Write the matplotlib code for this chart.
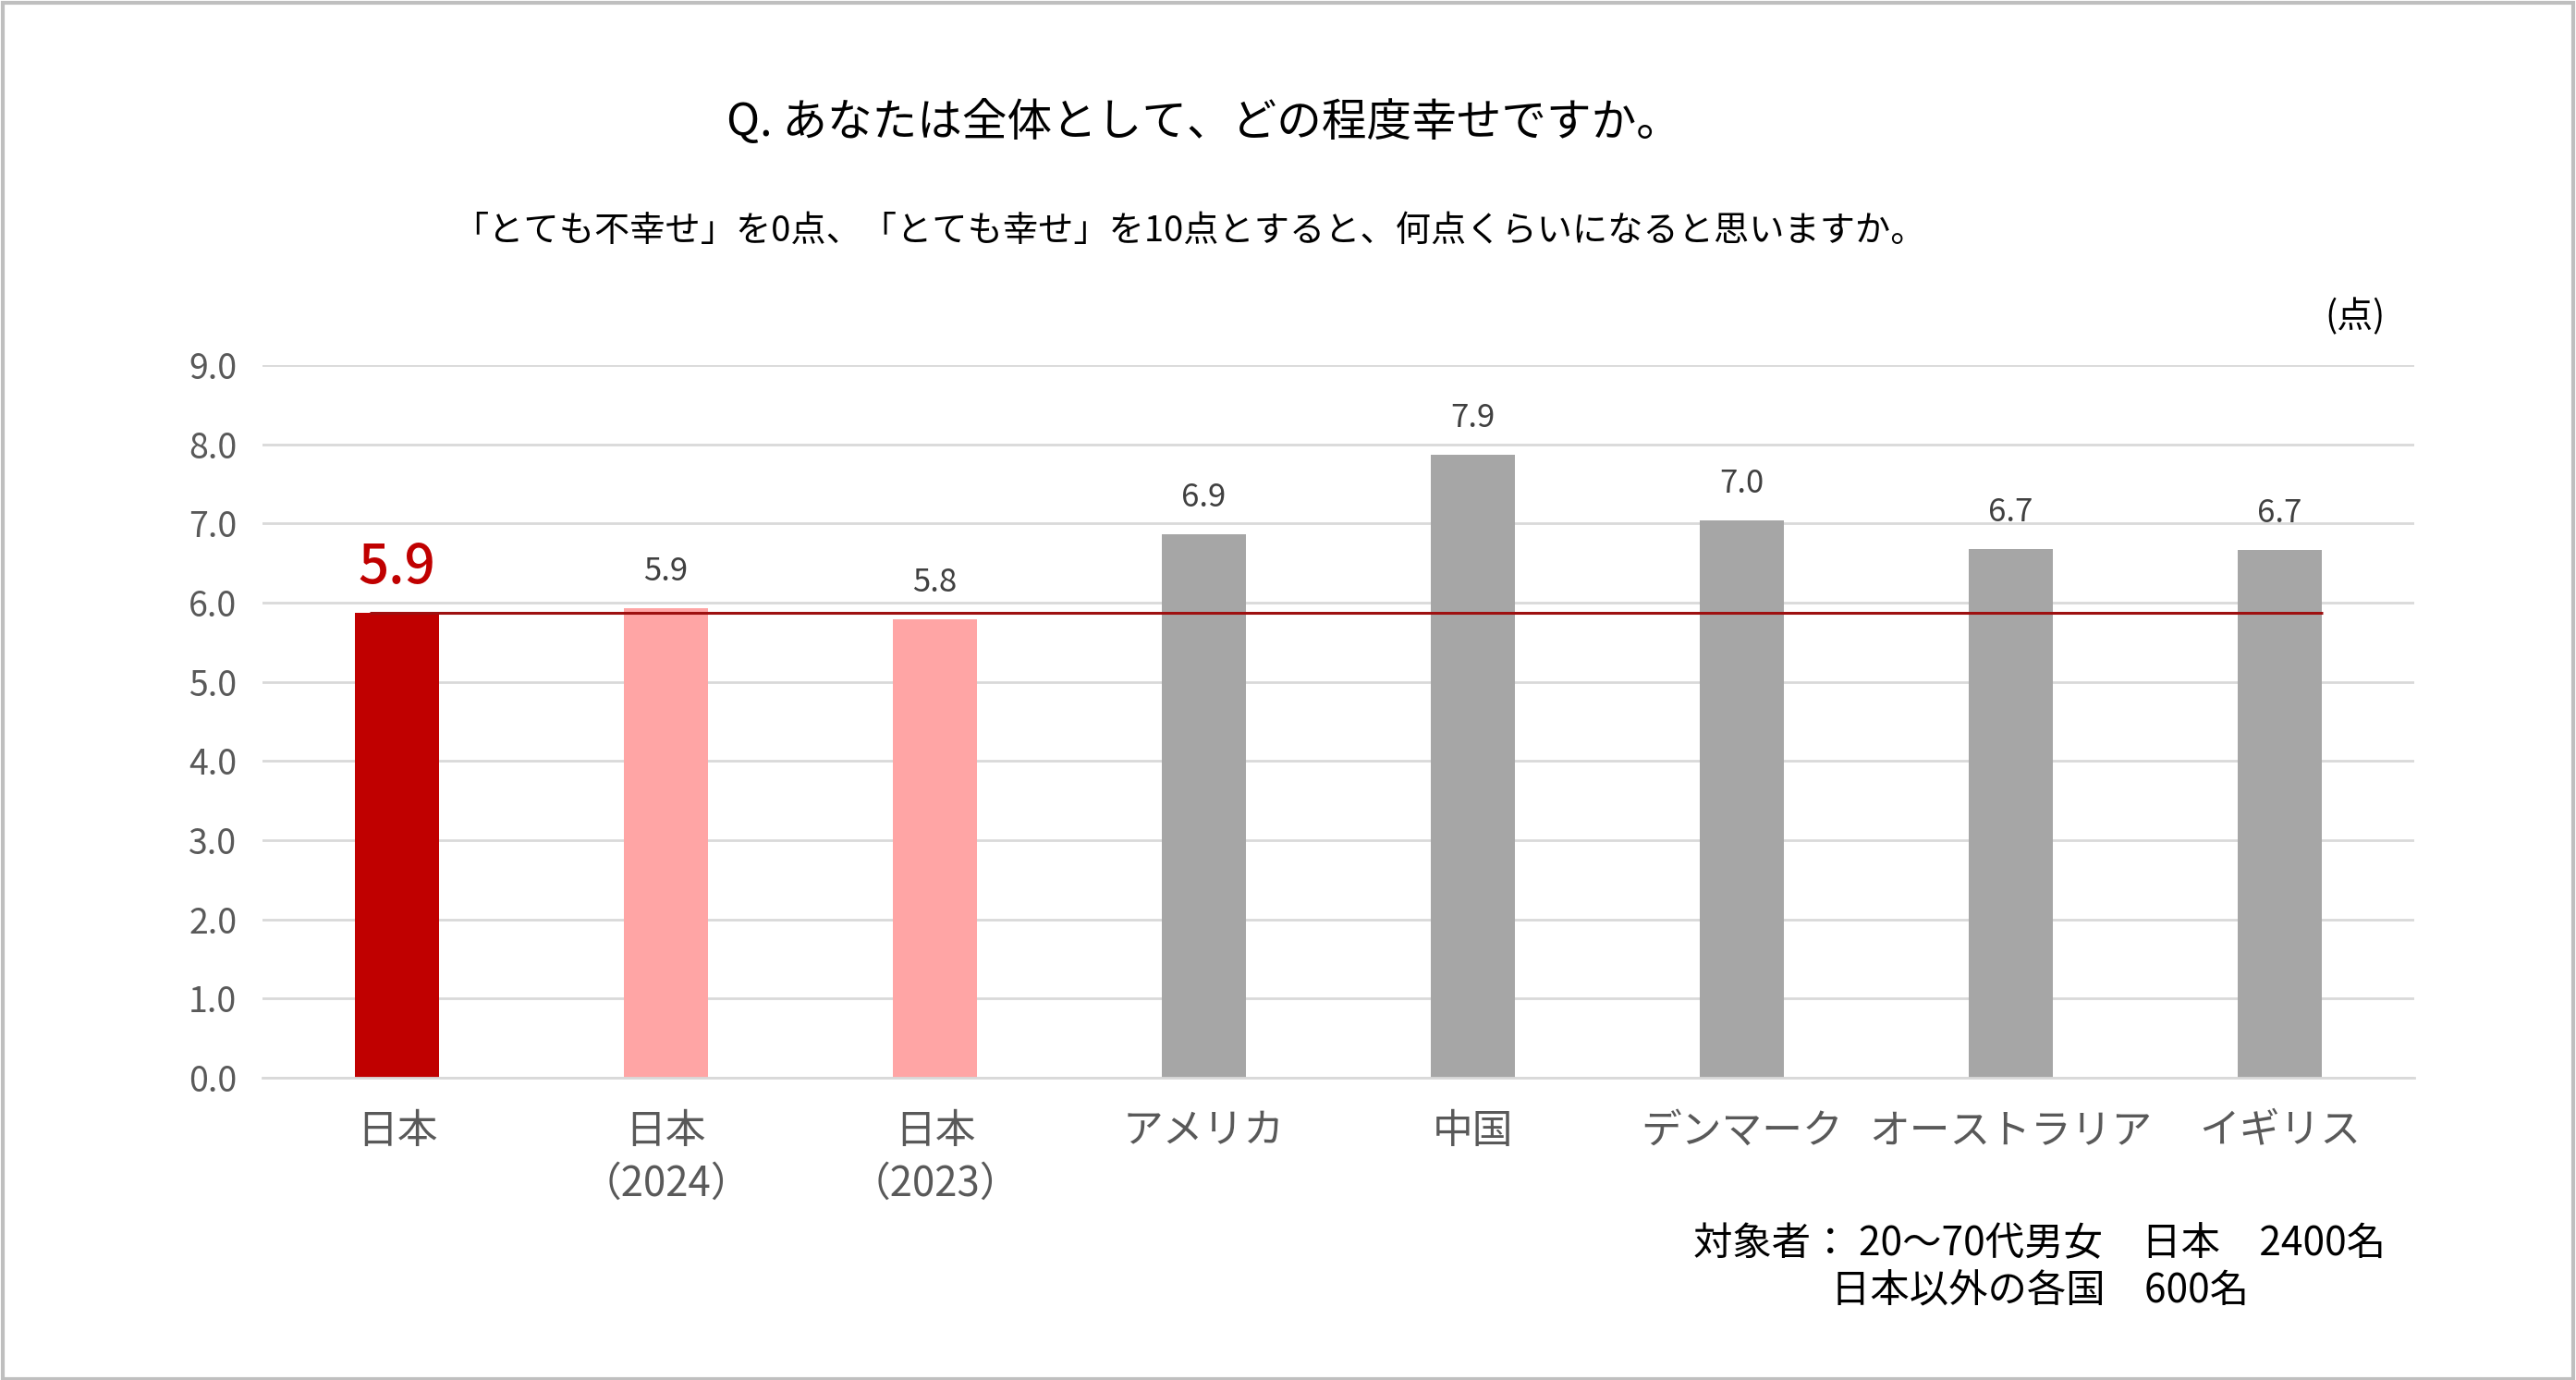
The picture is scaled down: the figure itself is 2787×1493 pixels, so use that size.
import matplotlib
matplotlib.use("Agg")
import matplotlib.pyplot as plt
from matplotlib.patches import Rectangle

plt.rcParams['font.family'] = ['Noto Sans CJK JP', 'DejaVu Sans']

# --- データ ---
categories = ['日本', '日本\n（2024）', '日本\n（2023）', 'アメリカ', '中国',
              'デンマーク', 'オーストラリア', 'イギリス']
scores = [5.87, 5.93, 5.79, 6.86, 7.87, 7.04, 6.68, 6.66]
labels = ['5.9', '5.9', '5.8', '6.9', '7.9', '7.0', '6.7', '6.7']
bar_colors = ['#C00000', '#FFA5A5', '#FFA5A5', '#A6A6A6', '#A6A6A6',
              '#A6A6A6', '#A6A6A6', '#A6A6A6']
japan_score = scores[0]

W, H = 2787, 1493
fig = plt.figure(figsize=(W / 100, H / 100), dpi=100)
ax = fig.add_axes([284 / W, 1 - 1166 / H, (2612 - 284) / W, (1166 - 395) / H])

x = list(range(len(categories)))
ax.bar(x, scores, width=0.31, color=bar_colors, zorder=2)

# 日本の平均ライン
ax.hlines(japan_score, -0.1, 7.16, color='#9E1010', linewidth=2.2, zorder=3)

# 値ラベル
for i, (v, lab) in enumerate(zip(scores, labels)):
    if i == 0:
        ax.annotate(lab, (i, v), xytext=(0, 14), textcoords='offset points',
                    ha='center', va='bottom', fontsize=42, color='#C00000',
                    fontweight='medium')
    else:
        ax.annotate(lab, (i, v), xytext=(0, 16), textcoords='offset points',
                    ha='center', va='bottom', fontsize=25, color='#404040')

ax.set_xlim(-0.5, 7.5)
ax.set_ylim(0, 9)
ax.set_yticks(range(10))
ax.set_yticklabels([f'{v:.1f}' for v in range(10)])
ax.set_xticks(x)
ax.set_xticklabels(categories, linespacing=1.3)
ax.tick_params(axis='y', length=0, pad=20, labelsize=27, labelcolor='#595959')
ax.tick_params(axis='x', length=0, pad=25, labelsize=31.5, labelcolor='#595959')
ax.grid(axis='y', color='#D9D9D9', linewidth=2, zorder=0)
for s in ['top', 'right', 'left']:
    ax.spines[s].set_visible(False)
ax.spines['bottom'].set_color('#D9D9D9')
ax.spines['bottom'].set_linewidth(2)

# タイトル類
fig.text(1302 / W, 1 - 133 / H, 'Q. あなたは全体として、どの程度幸せですか。',
         ha='center', va='center', fontsize=35, color='black')
fig.text(1287 / W, 1 - 250 / H,
         '「とても不幸せ」を0点、「とても幸せ」を10点とすると、何点くらいになると思いますか。',
         ha='center', va='center', fontsize=27.5, color='black')
fig.text(2548 / W, 1 - 343 / H, '(点)', ha='center', va='center', fontsize=28,
         color='black')
fig.text(2207 / W, 1 - 1372 / H, '対象者： 20～70代男女　日本　2400名\n日本以外の各国　600名',
         ha='center', va='center', fontsize=30.5, color='black', linespacing=1.2,
         multialignment='center')

# 外枠
fig.patches.append(Rectangle((0.001, 0.001), 0.998, 0.997, transform=fig.transFigure,
                             fill=False, edgecolor='#BFBFBF', linewidth=3))

fig.savefig('out.png', dpi=100, facecolor='white')
